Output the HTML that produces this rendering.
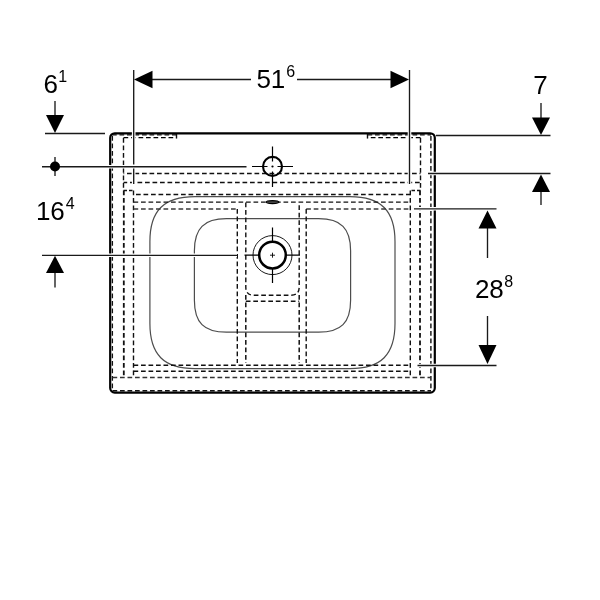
<!DOCTYPE html>
<html><head><meta charset="utf-8"><style>
html,body{margin:0;padding:0;background:#fff;width:600px;height:600px;overflow:hidden}
svg{display:block;will-change:transform}
text{font-family:"Liberation Sans",sans-serif;fill:#000}
</style></head><body>
<svg width="600" height="600" viewBox="0 0 600 600">
<rect width="600" height="600" fill="#fff"/>
<!-- basin shapes -->
<g fill="none" stroke="#4d4d4d" stroke-width="1.2">
  <path d="M194.90 196.60H350.00C381.05 196.60 395.00 210.55 395.00 241.60V323.60C395.00 354.65 381.05 368.60 350.00 368.60H194.90C163.85 368.60 149.90 354.65 149.90 323.60V241.60C149.90 210.55 163.85 196.60 194.90 196.60Z"/>
  <path d="M226.40 218.70H318.60C341.00 218.70 350.60 228.30 350.60 250.70V300.20C350.60 322.60 341.00 332.20 318.60 332.20H226.40C204.00 332.20 194.40 322.60 194.40 300.20V250.70C194.40 228.30 204.00 218.70 226.40 218.70Z"/>
</g>
<!-- hidden (dashed) lines -->
<g fill="none" stroke="#111" stroke-width="1.4" stroke-dasharray="4.7 2.8">
  <!-- left verticals -->
  <path d="M112.4 136V390" stroke-width="1.3"/>
  <path d="M123.5 138V190"/>
  <path d="M123.8 190.5V376" stroke-width="1.8"/>
  <path d="M133.5 190.5V377"/>
  <path d="M123.5 190.5H133.5" stroke-dasharray="3.5 2"/>
  
  <!-- right verticals -->
  <path d="M430.9 136V390" stroke-width="1.4"/>
  <path d="M420.5 138V190"/>
  <path d="M420 190.5V376" stroke-width="1.8"/>
  <path d="M410.3 190.5V377"/>
  <path d="M420.5 190.5H410.5" stroke-dasharray="3.5 2"/>
  
  <!-- top short -->
  <path d="M112 134.8H176.5M367.5 134.8H431" stroke-width="1.3"/>
  <path d="M123.5 137.6H176.5M420.5 137.6H367.5" stroke="#000" stroke-width="1.4"/>
  <path d="M176.5 133V138.5M367.5 133V138.5" stroke-dasharray="none"/>
  <!-- top rows -->
  <path d="M123.5 173.5H420.5" stroke-dashoffset="4"/>
  <path d="M123.5 182.5H420.5" stroke-dashoffset="1"/>
  <path d="M133.5 194.5H410.5" stroke-dashoffset="5"/>
  <path d="M133.5 202.1H410.5" stroke="#111" stroke-width="1.45"/>
  <path d="M133.5 209H237.3M306.2 209H410.5" stroke="#3a3a3a" stroke-width="1.3"/>
  <!-- bottom rows -->
  <path d="M133.5 365.3H410.5"/>
  <path d="M133.5 371.3H410.5"/>
  <path d="M112.5 377.5H431" stroke="#333" stroke-width="1.4"/>
  <path d="M112.5 390.7H431"/>
  <!-- center verticals -->
  <path d="M237.3 209V363"/>
  <path d="M306.2 209V363"/>
  <path d="M245.8 202.5V287Q245.8 295.2 253.8 295.2H291.2Q299.2 295.2 299.2 287V202.5" stroke-width="1.4"/>
  <path d="M245.8 295V363" stroke-width="1.5"/>
  <path d="M299.2 295V363" stroke-width="1.5"/>
  <path d="M245.8 301.3H299.2"/>
</g>
<!-- overflow -->
<ellipse cx="272.5" cy="202.1" rx="6.3" ry="1.5" fill="#444" stroke="#000" stroke-width="1.1"/>
<!-- outer slab -->
<rect x="110.2" y="133.3" width="324.6" height="259.3" rx="4.5" ry="4.5" fill="none" stroke="#000" stroke-width="2.2"/>
<!-- halos -->
<g stroke="#fff" stroke-width="3.6" fill="none">
  <path d="M133.7 72V184M409.5 72V184"/>
  <path d="M60 166.7H246.5"/>
  <path d="M60 255.3H237"/>
  <path d="M428 173.5H500"/>
  <path d="M414 208.8H470"/>
  <path d="M417.5 365.5H470"/>
</g>
<!-- extension lines -->
<g stroke="#1a1a1a" stroke-width="1.35" fill="none">
  <path d="M133.7 70V164.5M133.7 168.5V184"/>
  <path d="M409.5 70V184"/>
  <path d="M152 79.5H251M297 79.5H391"/>
  <path d="M45 133.5H105"/>
  <path d="M55 101V116"/>
  <path d="M436 135.5H550.5"/>
  <path d="M428 173.5H550.5"/>
  <path d="M541 103V118"/>
  <path d="M541 191V205"/>
  <path d="M42 166.7H246.5" stroke-width="1.5"/>
  <path d="M55 157V176"/>
  <path d="M42 255.3H237"/>
  <path d="M55 272V287.5"/>
  <path d="M414 208.8H496.5"/>
  <path d="M487.5 228V258"/>
  <path d="M487.5 316V346"/>
  <path d="M417.5 365.5H496.5"/>
</g>
<!-- arrowheads -->
<g fill="#000">
  <polygon points="134,79.5 152.5,70.8 152.5,88.2"/>
  <polygon points="409,79.5 390.5,70.8 390.5,88.2"/>
  <polygon points="46,115 64,115 55,133"/>
  <polygon points="532,117.5 550,117.5 541,135"/>
  <polygon points="541,174.5 532,192 550,192"/>
  <polygon points="55,255.7 46,273 64,273"/>
  <polygon points="487.5,210.5 478.5,228.5 496.5,228.5"/>
  <polygon points="487.5,364 478.5,345 496.5,345"/>
</g>
<circle cx="55" cy="166.5" r="5" fill="#000"/>
<!-- tap hole -->
<g stroke="#000" fill="none">
  <circle cx="272.5" cy="166.4" r="9.5" stroke-width="2.1"/>
  <path d="M272.5 146.5V161.5M272.5 171.5V187M252 166.5H267.5M277.5 166.5H293" stroke-width="1.2"/>
</g>
<circle cx="272.5" cy="166.5" r="1.1" fill="#000"/>
<!-- drain -->
<g stroke="#000" fill="none">
  <circle cx="272.5" cy="255.1" r="19.5" stroke-width="0.9"/>
  <circle cx="272.5" cy="255.1" r="13.3" stroke-width="2.5"/>
  <path d="M272.5 227.5V242M272.5 268.5V283M244.5 255.2H259.5M285.5 255.2H300" stroke-width="1.2"/>
  <path d="M270 255.2H275M272.5 252.7V257.7" stroke-width="0.9"/>
</g>
<!-- text -->
<text x="256.4" y="88" font-size="26">51</text>
<text x="286.3" y="76.8" font-size="16">6</text>
<text x="43.6" y="92.5" font-size="26">6</text>
<text x="58.2" y="82" font-size="16">1</text>
<text x="533.3" y="93.7" font-size="26">7</text>
<text x="35.9" y="219.8" font-size="26">16</text>
<text x="65.8" y="209" font-size="16">4</text>
<text x="474.9" y="297.9" font-size="26">28</text>
<text x="504.2" y="287" font-size="16">8</text>
</svg>
</body></html>
